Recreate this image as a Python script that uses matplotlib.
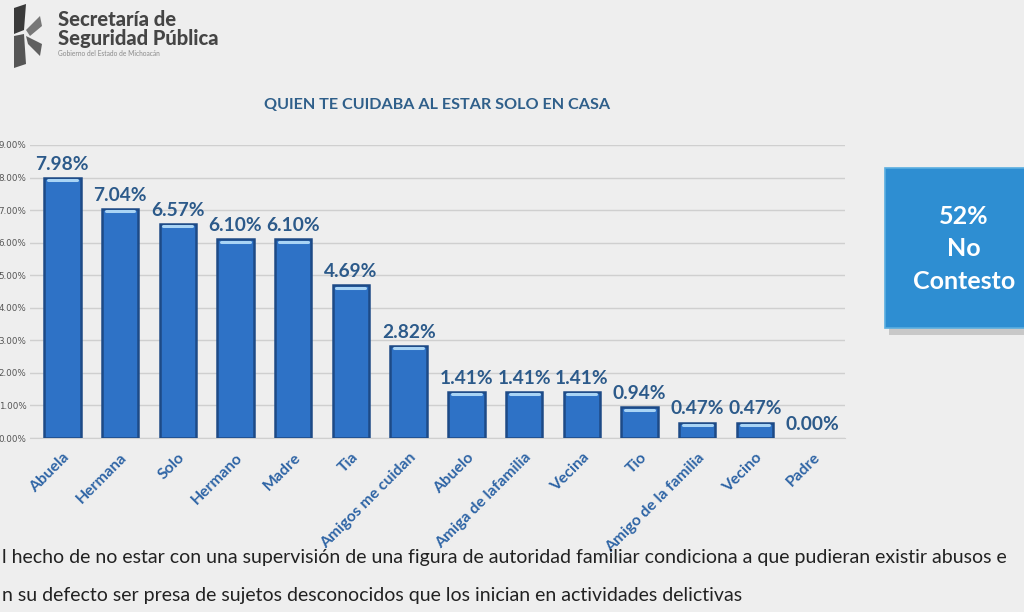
import matplotlib.pyplot as plt
from matplotlib.patches import Rectangle, Polygon
import numpy as np

categorias = ['Abuela', 'Hermana', 'Solo', 'Hermano', 'Madre', 'Tia', 'Amigos me cuidan',
              'Abuelo', 'Amiga de lafamilia', 'Vecina', 'Tio', 'Amigo de la familia',
              'Vecino', 'Padre']
valores = [7.98, 7.04, 6.57, 6.10, 6.10, 4.69, 2.82, 1.41, 1.41, 1.41, 0.94, 0.47, 0.47, 0.00]
yticks = [0, 1, 2, 3, 4, 5, 6, 7, 8, 9]

titulo = 'QUIEN TE CUIDABA AL ESTAR SOLO EN CASA'
caja_texto = '52%\nNo\nContesto'
nota = ['l hecho de no estar con una supervisión de una figura de autoridad familiar condiciona a que pudieran existir abusos e',
        'n su defecto ser presa de sujetos desconocidos que los inician en actividades delictivas']

fondo = '#eeeeee'
azul = '#2e72c6'
borde = '#1d4a86'
texto_azul = '#2c5a8a'

fig = plt.figure(figsize=(10.24, 6.12), dpi=100, facecolor=fondo)
ax = fig.add_axes([30 / 1024, 174 / 612, 815 / 1024, 293 / 612], facecolor=fondo)

x = np.arange(len(categorias))
ax.bar(x, valores, width=0.63, color=azul, edgecolor=borde,
       linewidth=[1.8 if v > 0 else 0 for v in valores], zorder=3)
# brillo en la parte superior de cada barra
for xi, v in zip(x, valores):
    if v > 0:
        ax.plot([xi - 0.25, xi + 0.25], [v - 0.07, v - 0.07], color='#a9d4f5',
                linewidth=2.2, solid_capstyle='round', zorder=4)
    ax.text(xi, v + 0.16, f'{v:.2f}%', ha='center', va='bottom', fontsize=13.8,
            fontweight='bold', color=texto_azul, family='Lato', zorder=5)

ax.set_xlim(-0.56, len(categorias) - 0.44)
ax.set_ylim(0, 9)
ax.set_yticks(yticks)
ax.set_yticklabels([f'{t:.2f}%' for t in yticks], fontsize=6.3, color='#555555')
ax.tick_params(axis='y', length=0, pad=2.5)
ax.yaxis.grid(True, color='#cfcfcf', linewidth=1)
ax.set_axisbelow(True)
ax.set_xticks(x)
ax.set_xticklabels(categorias, rotation=45, ha='right', rotation_mode='anchor',
                   fontsize=11.3, fontweight='bold', color='#2e64a5', family='Lato')
ax.tick_params(axis='x', length=0, pad=9)
for s in ['top', 'right', 'left']:
    ax.spines[s].set_visible(False)
ax.spines['bottom'].set_color('#cfcfcf')

fig.text(437 / 1024, 1 - 105 / 612, titulo, ha='center', va='center', fontsize=11.6,
         fontweight='bold', color='#2f5f8a', family='Lato')

# caja "No Contesto"
fig.patches.append(Rectangle((889 / 1024, 277 / 612), 150 / 1024, 160 / 612,
                             transform=fig.transFigure, facecolor='#b0b0b0',
                             edgecolor='none', alpha=0.6, zorder=1))
fig.patches.append(Rectangle((885 / 1024, 284 / 612), 150 / 1024, 160 / 612,
                             transform=fig.transFigure, facecolor='#2e8ed2',
                             edgecolor='#5aaee0', linewidth=1.2, zorder=2))
fig.text(964 / 1024, 1 - 249 / 612, caja_texto, ha='center', va='center', fontsize=18,
         fontweight='bold', color='white', family='Lato', linespacing=1.5, zorder=3)

# logotipo
logo = [[(14, 8), (26, 4), (24, 30), (14, 34)],
        [(14, 36), (24, 34), (26, 64), (14, 68)],
        [(26, 30), (40, 16), (42, 26), (30, 36)],
        [(26, 36), (42, 44), (40, 56), (28, 44)]]
for i, p in enumerate(logo):
    fig.patches.append(Polygon([(a / 1024, 1 - b / 612) for a, b in p], closed=True,
                               transform=fig.transFigure,
                               facecolor=['#3a3a3a', '#555555', '#777777', '#606060'][i],
                               edgecolor='none'))
fig.text(58 / 1024, 1 - 20 / 612, 'Secretaría de', ha='left', va='center', fontsize=14.5,
         fontweight='black', color='#454545', family='Lato')
fig.text(58 / 1024, 1 - 38 / 612, 'Seguridad Pública', ha='left', va='center', fontsize=14.5,
         fontweight='black', color='#454545', family='Lato')
fig.text(58 / 1024, 1 - 54 / 612, 'Gobierno del Estado de Michoacán', ha='left', va='center',
         fontsize=4.8, color='#8a8a8a', family='Lato')

fig.text(2 / 1024, 1 - 557 / 612, nota[0], ha='left', va='center', fontsize=14,
         color='#222222', family='Lato')
fig.text(2 / 1024, 1 - 595 / 612, nota[1], ha='left', va='center', fontsize=14,
         color='#222222', family='Lato')

fig.savefig('out.png', dpi=100, facecolor=fondo)
